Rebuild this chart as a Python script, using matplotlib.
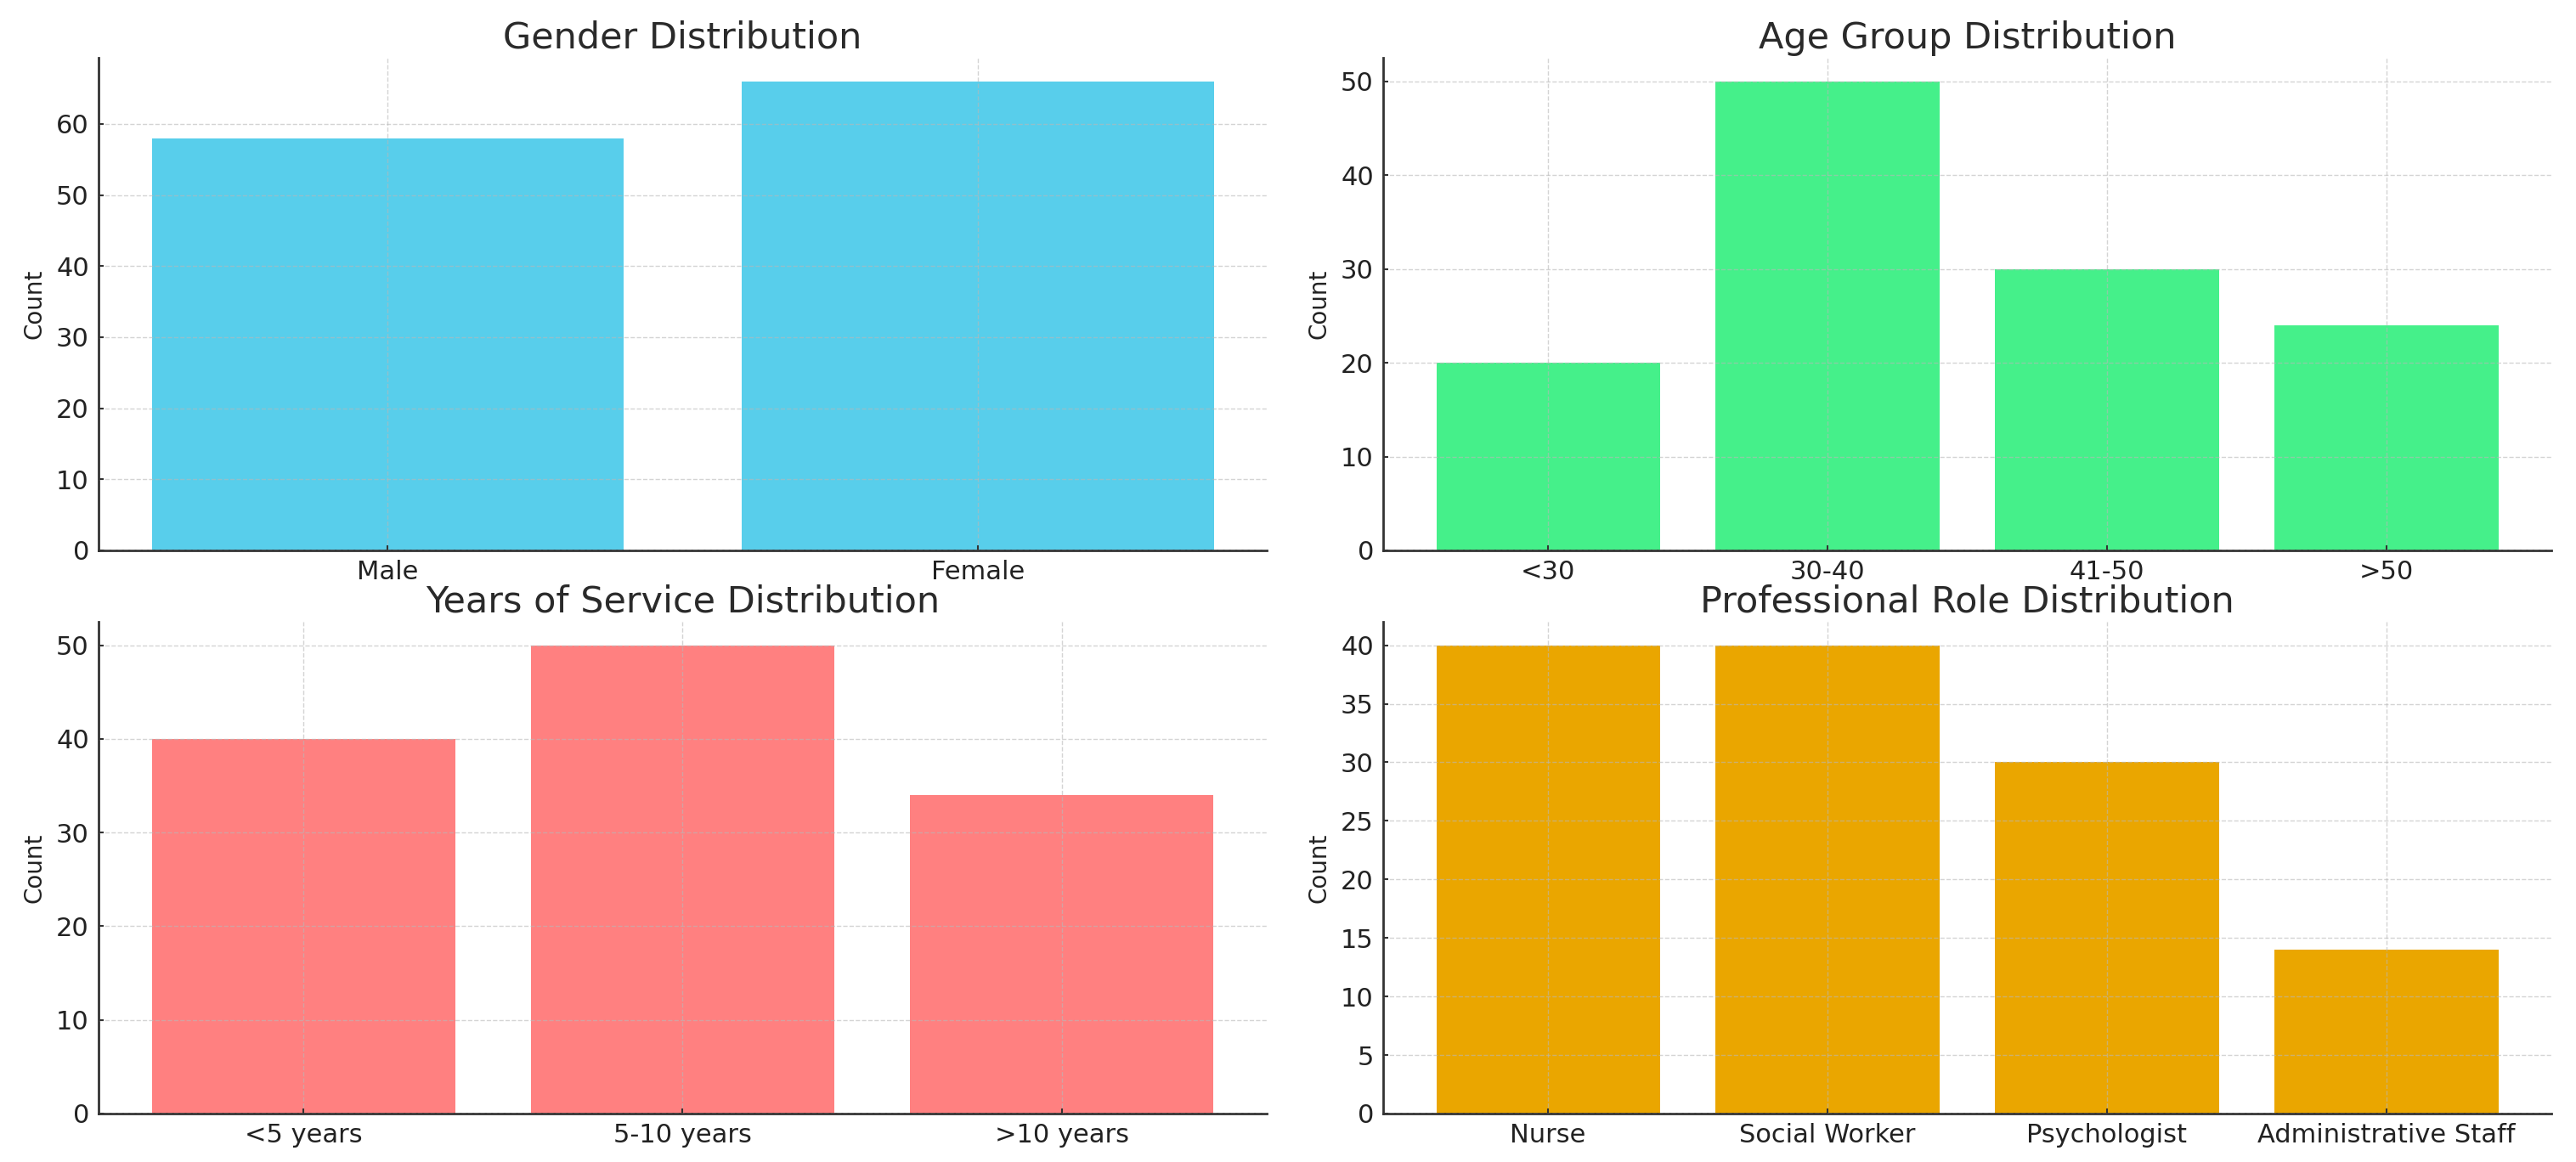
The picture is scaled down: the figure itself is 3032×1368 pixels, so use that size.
import matplotlib
matplotlib.use("Agg")
import matplotlib.pyplot as plt

# ---- data ----
gender_labels = ["Male", "Female"]
gender_counts = [58, 66]

age_labels = ["<30", "30-40", "41-50", ">50"]
age_counts = [20, 50, 30, 24]

service_labels = ["<5 years", "5-10 years", ">10 years"]
service_counts = [40, 50, 34]

role_labels = ["Nurse", "Social Worker", "Psychologist", "Administrative Staff"]
role_counts = [40, 40, 30, 14]

titles = ["Gender Distribution", "Age Group Distribution",
          "Years of Service Distribution", "Professional Role Distribution"]
colors = ["#58CEEB", "#45F08A", "#FF8080", "#EAA600"]

plt.rcParams["font.family"] = ["DejaVu Sans"]

W, H = 3032, 1368
fig = plt.figure(figsize=(W / 100, H / 100), dpi=100)

# axes rectangles in pixels: (left, right, top, bottom)
rects = [(116, 1491, 68, 648), (1628, 3003, 68, 648),
         (116, 1491, 732, 1311), (1628, 3003, 732, 1311)]

datasets = [(gender_labels, gender_counts), (age_labels, age_counts),
            (service_labels, service_counts), (role_labels, role_counts)]

for (l, r, t, b), (labels, counts), title, color in zip(rects, datasets, titles, colors):
    ax = fig.add_axes([l / W, 1 - b / H, (r - l) / W, (b - t) / H])
    ax.bar(labels, counts, color=color, width=0.8, zorder=1)
    ax.set_title(title, fontsize=31, color="#2a2a2a", pad=8)
    ax.set_ylabel("Count", fontsize=20, color="#222222", labelpad=8)
    ax.grid(True, linestyle="--", color="#b8b8b8", linewidth=1.0, alpha=0.6, zorder=2)
    ax.set_axisbelow(False)
    for s in ["top", "right"]:
        ax.spines[s].set_visible(False)
    for s in ["left", "bottom"]:
        ax.spines[s].set_color("#333333")
        ax.spines[s].set_linewidth(2.0)
    ax.tick_params(axis="both", direction="in", length=4, width=1.5,
                   color="#333333", labelsize=22, labelcolor="#222222", pad=8)

fig.savefig("out.png", dpi=100, facecolor="white")
